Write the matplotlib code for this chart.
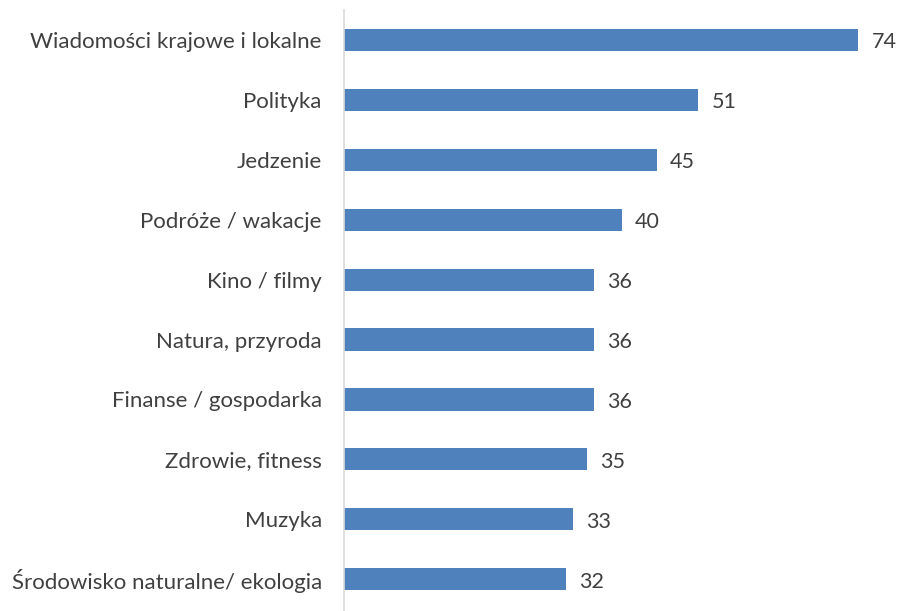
import matplotlib
matplotlib.use("Agg")
import matplotlib.pyplot as plt

categories = ["Wiadomości krajowe i lokalne", "Polityka", "Jedzenie", "Podróże / wakacje",
              "Kino / filmy", "Natura, przyroda", "Finanse / gospodarka", "Zdrowie, fitness",
              "Muzyka", "Środowisko naturalne/ ekologia"]
values = [74, 51, 45, 40, 36, 36, 36, 35, 33, 32]

plt.rcParams['font.family'] = ['Lato', 'DejaVu Sans']

fig = plt.figure(figsize=(9, 6.11), dpi=100)
ax = fig.add_axes([344/900, 0, 1 - 344/900, 1 - 10/611])

ypos = list(range(len(categories)))
ax.barh(ypos, values, height=0.37, color="#4F81BD")
ax.set_ylim(len(categories) - 0.5 + 0.03, -0.5)
ax.set_xlim(0, 80)

for y, v in zip(ypos, values):
    ax.text(v + 1.9, y + 0.04, str(v), va='center', ha='left', fontsize=15.5, color='#404040')

ax.set_yticks(ypos)
ax.set_yticklabels(categories, fontsize=16, color='#404040')
ax.tick_params(axis='y', length=0, pad=16)
ax.set_xticks([])
for s in ['top', 'right', 'bottom']:
    ax.spines[s].set_visible(False)
ax.spines['left'].set_color('#D9D9D9')
ax.spines['left'].set_linewidth(1.2)

fig.savefig("out.png", dpi=100)
